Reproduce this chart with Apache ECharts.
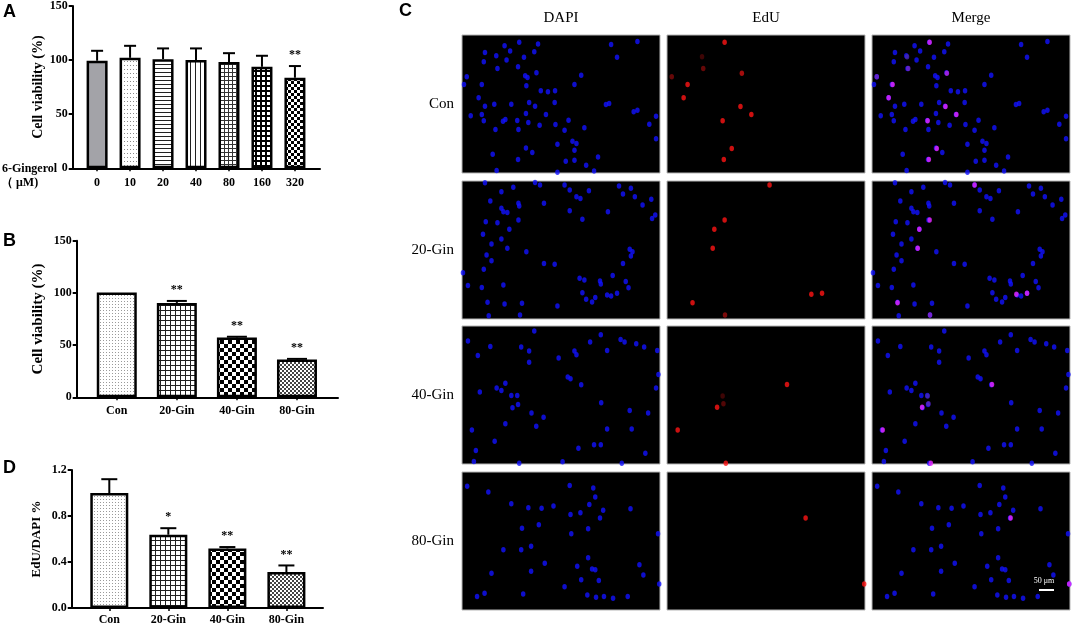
<!DOCTYPE html>
<html>
<head>
<meta charset="utf-8">
<script src="https://cdn.jsdelivr.net/npm/echarts@6/dist/echarts.min.js"></script>
<style>
  html, body { margin: 0; padding: 0; background: #fff; }
  #main { width: 1072px; height: 626px; }
</style>
</head>
<body>
<div id="main"></div>
<script>
// panel A: 6-Gingerol dose
var doseLabels = ['0', '10', '20', '40', '80', '160', '320'];
var viabilityA = [99.4, 102.1, 100.9, 100.0, 98.2, 93.8, 83.7];
var viabilityAErr = [9.2, 11.1, 9.9, 10.8, 8.2, 10.2, 10.8];
var starsA = ['', '', '', '', '', '', '**'];
var ticksA = [0, 50, 100, 150];

// panel B / D: groups
var groupLabels = ['Con', '20-Gin', '40-Gin', '80-Gin'];
var viabilityB = [100.5, 90.4, 57.3, 36.2];
var viabilityBErr = [0, 1.9, 0.7, 0.6];
var starsB = ['', '**', '**', '**'];
var ticksB = [0, 50, 100, 150];

var edURatio = [1.00, 0.637, 0.518, 0.313];
var edURatioErr = [0.12, 0.057, 0.012, 0.057];
var starsD = ['', '*', '**', '**'];
var ticksD = [0, 0.4, 0.8, 1.2];

// panel C: nuclei positions (% of image width / height)
var rowLabels = ['Con', '20-Gin', '40-Gin', '80-Gin'];
var colLabels = ['DAPI', 'EdU', 'Merge'];

var dapiCon = [[11.6,12.6],[21.5,7.7],[24.3,11.6],[28.9,5.3],[38.4,6.5],[36.5,12.1],[17.3,15.0],[22.5,18.2],[31.3,16.2],[11.0,19.4],
  [17.9,24.2],[28.3,23.0],[2.4,30.3],[1.0,35.8],[10.0,35.8],[31.9,29.5],[33.1,30.8],[37.6,27.4],[32.5,36.8],[60.2,29.1],
  [56.8,35.8],[39.8,40.4],[43.4,41.2],[47.0,40.4],[8.4,45.5],[11.6,51.6],[16.3,50.1],[24.9,50.1],[33.9,48.9],[36.9,51.6],
  [46.8,48.9],[4.4,58.6],[10.0,57.6],[11.0,62.2],[20.7,62.5],[21.9,61.3],[27.9,62.0],[32.3,56.9],[33.5,63.4],[39.2,65.4],
  [42.4,57.6],[47.2,64.9],[53.8,61.7],[16.9,68.5],[28.5,68.5],[51.8,69.0],[61.8,67.3],[72.7,50.4],[74.3,49.6],[86.7,55.7],
  [88.6,54.5],[98.0,58.8],[94.6,64.6],[98.0,75.1],[75.3,6.8],[78.3,16.2],[88.6,4.8],[55.8,77.0],[57.8,78.7],[56.8,83.5],
  [48.2,79.2],[32.3,81.8],[35.5,85.2],[15.5,86.4],[28.3,90.3],[52.4,91.5],[56.8,90.8],[62.7,94.4],[68.7,88.4],[66.7,98.5],
  [17.5,98.1],[48.2,99.5]];
var edUCon = [[29.1,5.3,1],[17.7,15.7,0.3],[18.3,24.2,0.5],[37.8,27.8,0.8],[2.4,30.3,0.5],[10.4,35.8,1],[8.4,45.5,1],
  [37.1,51.8,1],[42.6,57.6,1],[28.1,62.2,1],[32.7,82.3,1],[28.7,90.3,1]];

var dapi20 = [[11.6,1.2],[19.9,7.7],[25.9,4.6],[36.9,1.0],[39.4,2.9],[51.8,2.9],[54.4,6.5],[64.1,7.0],[57.8,11.4],[59.8,12.6],
  [79.3,3.6],[85.3,5.3],[81.3,9.4],[87.3,11.4],[91.2,17.4],[95.6,13.3],[97.6,24.6],[96.0,27.1],[14.3,14.5],[28.5,16.2],
  [28.9,18.1],[41.4,16.2],[19.9,19.8],[20.9,22.2],[22.9,22.9],[12.0,29.5],[17.9,30.2],[28.5,28.3],[23.9,35.0],[54.4,21.5],
  [73.7,22.2],[60.8,27.8],[10.6,38.6],[19.9,42.0],[14.9,45.7],[22.9,48.8],[32.5,51.2],[84.7,49.5],[86.1,51.2],[85.3,54.3],
  [12.4,53.6],[14.9,57.7],[81.3,59.7],[41.4,59.7],[46.8,60.4],[11.0,64.0],[0.5,66.4],[3.0,75.8],[10.0,77.1],[20.9,75.4],
  [59.4,70.5],[61.8,71.7],[69.7,72.5],[70.1,74.6],[76.1,68.4],[82.7,72.9],[84.1,77.3],[60.8,80.9],[62.7,85.7],[65.7,87.7],
  [67.3,84.5],[73.3,82.6],[75.3,83.3],[78.3,81.4],[12.9,87.9],[21.5,89.1],[30.3,88.6],[48.2,90.6],[13.5,97.6],[29.3,97.1]];
var edU20 = [[51.8,2.9,1],[29.1,28.3,1],[23.9,35.0,1],[23.1,48.8,1],[72.9,82.1,1],[78.3,81.4,1],[12.9,88.2,1],[29.3,97.1,0.6]];

var dapi40 = [[3.0,10.9],[14.3,14.8],[8.0,21.3],[36.5,3.6],[29.9,15.3],[33.9,18.2],[33.9,26.2],[48.8,23.2],[56.8,18.2],[57.8,20.8],
  [64.7,11.6],[70.1,6.3],[73.3,17.7],[80.1,9.7],[82.1,11.6],[88.0,12.8],[92.0,15.3],[98.6,17.7],[99.2,35.1],[98.0,45.0],
  [53.4,37.0],[54.8,38.3],[60.2,42.6],[9.0,47.9],[17.5,45.0],[19.9,46.7],[21.9,41.4],[24.9,50.4],[27.9,50.4],[28.3,56.9],
  [25.5,59.3],[35.1,63.0],[41.2,66.1],[37.5,72.6],[21.9,70.9],[5.0,75.3],[16.5,83.5],[7.0,90.3],[6.0,98.1],[70.3,55.7],
  [84.7,61.3],[94.0,63.0],[85.7,74.6],[73.3,74.6],[66.7,86.0],[70.1,86.0],[58.8,88.6],[92.6,92.3],[50.8,98.3],[28.9,99.5],
  [80.7,99.5]];
var edU40 = [[60.6,42.4,1],[25.3,58.8,1],[28.5,56.4,0.4],[28.1,50.8,0.3],[5.4,75.3,1],[29.7,99.5,1]];

var dapi80 = [[2.6,10.4],[13.3,14.5],[24.9,23.0],[33.5,25.9],[40.2,26.2],[46.2,24.7],[54.4,9.7],[66.3,11.6],[67.3,18.2],[64.3,23.5],
  [71.3,27.8],[59.8,29.5],[54.8,30.8],[69.7,33.4],[85.1,26.6],[38.8,38.3],[30.3,40.7],[55.2,44.8],[63.7,41.2],[99.0,44.8],
  [20.9,56.4],[29.9,56.4],[34.9,53.8],[41.8,66.1],[34.9,71.9],[14.9,73.4],[63.7,62.2],[58.2,68.3],[65.7,70.2],[67.3,70.9],
  [60.2,78.0],[69.1,78.7],[89.6,67.3],[91.6,74.6],[99.6,81.1],[51.8,83.1],[7.6,90.3],[11.4,87.9],[30.9,88.4],[63.3,89.1],
  [67.7,90.8],[71.7,90.3],[76.3,91.5],[83.7,90.3]];
var edU80 = [[70.0,33.4,1],[99.6,81.1,1]];

var dapiRows = [dapiCon, dapi20, dapi40, dapi80];
var edURows = [edUCon, edU20, edU40, edU80];

var serif = '"Liberation Serif", "DejaVu Serif", serif';

// 填充花纹
function pattern(w, h, draw) {
    var c = document.createElement('canvas');
    c.width = w; c.height = h;
    var ctx = c.getContext('2d');
    ctx.fillStyle = '#fff';
    ctx.fillRect(0, 0, w, h);
    draw(ctx);
    return { image: c, repeat: 'repeat' };
}
var patGray = '#a3a3a8';
var patDots = pattern(3, 4, function (ctx) { ctx.fillStyle = '#8a8a8a'; ctx.fillRect(1, 1, 1, 1); });
var patHLines = pattern(4, 4, function (ctx) { ctx.fillStyle = '#222'; ctx.fillRect(0, 0, 4, 1); });
var patVLines = pattern(5, 5, function (ctx) { ctx.fillStyle = '#222'; ctx.fillRect(0, 0, 1, 5); });
var patGrid = pattern(4, 4, function (ctx) { ctx.fillStyle = '#333'; ctx.fillRect(0, 0, 4, 1); ctx.fillRect(0, 0, 1, 4); });
var patBoldGrid = pattern(5, 5, function (ctx) { ctx.fillStyle = '#000'; ctx.fillRect(0, 0, 5, 5); ctx.fillStyle = '#fff'; ctx.fillRect(2, 2, 3, 3); });
var patChecker = pattern(6, 6, function (ctx) { ctx.fillStyle = '#000'; ctx.fillRect(0, 0, 3, 3); ctx.fillRect(3, 3, 3, 3); });
var patStipple = pattern(3, 3, function (ctx) { ctx.fillStyle = '#9a9a9a'; ctx.fillRect(1, 1, 1, 1); });
var patGrid5 = pattern(5, 5, function (ctx) { ctx.fillStyle = '#222'; ctx.fillRect(0, 0, 5, 1); ctx.fillRect(0, 0, 1, 5); });
var patChecker8 = pattern(8, 8, function (ctx) { ctx.fillStyle = '#000'; ctx.fillRect(0, 0, 4, 4); ctx.fillRect(4, 4, 4, 4); });
var patFine = pattern(4, 4, function (ctx) { ctx.fillStyle = '#444'; ctx.fillRect(0, 0, 2, 2); ctx.fillRect(2, 2, 2, 2); });

var patsA = [patGray, patDots, patHLines, patVLines, patGrid, patBoldGrid, patChecker];
var patsB = [patStipple, patGrid5, patChecker8, patFine];

var chart = echarts.init(document.getElementById('main'));

function idx(n) { var a = []; for (var i = 0; i < n; i++) a.push(i); return a; }

function barXAxis(g, cats, min, max, margin) {
    return {
        gridIndex: g, type: 'value', min: min, max: max,
        splitLine: { show: false },
        axisLine: { show: true, onZero: false, lineStyle: { color: '#000', width: 2 } },
        axisTick: { show: true, length: 3, customValues: idx(cats.length), lineStyle: { color: '#000', width: 1.5 } },
        axisLabel: {
            customValues: idx(cats.length), margin: margin,
            formatter: function (v) { return cats[Math.round(v)]; },
            color: '#000', fontFamily: serif, fontWeight: 'bold', fontSize: 12
        }
    };
}
function barYAxis(g, ticks, name, nameGap, nameSize, digits) {
    return {
        gridIndex: g, type: 'value', min: ticks[0], max: ticks[ticks.length - 1], interval: ticks[1] - ticks[0],
        splitLine: { show: false },
        axisLine: { show: true, onZero: false, lineStyle: { color: '#000', width: 2 } },
        axisTick: { show: true, length: 4, lineStyle: { color: '#000', width: 2 } },
        axisLabel: {
            margin: 5, color: '#000', fontFamily: serif, fontWeight: 'bold', fontSize: 12,
            formatter: function (v) { return digits ? v.toFixed(digits) : String(v); }
        },
        name: name, nameLocation: 'middle', nameGap: nameGap,
        nameTextStyle: { color: '#000', fontFamily: serif, fontWeight: 'bold', fontSize: nameSize }
    };
}
function barSeries(g, vals, pats, width, border) {
    return {
        type: 'bar', xAxisIndex: g, yAxisIndex: g, barWidth: width, silent: true,
        data: vals.map(function (v, i) {
            return { value: [i, v], itemStyle: { color: pats[i], borderColor: '#000', borderWidth: border } };
        })
    };
}
function errSeries(g, vals, errs, stars, cap) {
    return {
        type: 'custom', xAxisIndex: g, yAxisIndex: g, silent: true, z: 3,
        data: vals.map(function (v, i) { return [i, v, v + errs[i]]; }),
        renderItem: function (params, api) {
            var base = api.coord([api.value(0), api.value(1)]);
            var top = api.coord([api.value(0), api.value(2)]);
            var kids = [];
            if (base[1] - top[1] > 0.5) {
                kids.push({ type: 'line', shape: { x1: base[0], y1: base[1], x2: top[0], y2: top[1] }, style: { stroke: '#000', lineWidth: 2 } });
                kids.push({ type: 'line', shape: { x1: top[0] - cap / 2, y1: top[1], x2: top[0] + cap / 2, y2: top[1] }, style: { stroke: '#000', lineWidth: 2 } });
            }
            var s = stars[params.dataIndex];
            if (s) {
                kids.push({ type: 'text', style: { text: s, x: top[0], y: top[1] - 5, fill: '#000',
                    font: 'bold 12px ' + serif, textAlign: 'center', textVerticalAlign: 'bottom', align: 'center', verticalAlign: 'bottom' } });
            }
            return { type: 'group', children: kids };
        }
    };
}

var grids = [
    { left: 72.7, top: 5, width: 247.3, height: 163.3 },
    { left: 76.7, top: 240.7, width: 261.3, height: 156.6 },
    { left: 71.7, top: 470, width: 251.3, height: 140.7 }
];
var xAxes = [
    barXAxis(0, doseLabels, -0.74, 6.76, 9),
    barXAxis(1, groupLabels, -0.667, 3.683, 8),
    barXAxis(2, groupLabels, -0.637, 3.62, 6)
];
var yAxes = [
    barYAxis(0, ticksA, 'Cell viability (%)', 27, 14, 0),
    barYAxis(1, ticksB, 'Cell viability (%)', 31, 15, 0),
    barYAxis(2, ticksD, 'EdU/DAPI %', 29, 13, 1)
];
var series = [
    barSeries(0, viabilityA, patsA, 21, 2.5),
    errSeries(0, viabilityA, viabilityAErr, starsA, 12),
    barSeries(1, viabilityB, patsB, 40, 2.5),
    errSeries(1, viabilityB, viabilityBErr, starsB, 20),
    barSeries(2, edURatio, patsB, 38, 2.5),
    errSeries(2, edURatio, edURatioErr, starsD, 16)
];

// 荧光图片面板
var imgLeft = [462, 667, 872];
var imgTop = [35, 181, 326, 472];
var imgW = 198, imgH = 138;
function redColor(p) { var k = p.value[2]; return 'rgb(' + Math.round(255 * k) + ',' + Math.round(20 * k) + ',' + Math.round(20 * k) + ')'; }
function magentaColor(p) { var k = p.value[2]; return 'rgb(' + Math.round(235 * k) + ',40,' + Math.round(150 + 105 * k) + ')'; }

for (var r = 0; r < 4; r++) {
    for (var c = 0; c < 3; c++) {
        var g = grids.length;
        grids.push({ left: imgLeft[c], top: imgTop[r], width: imgW, height: imgH, show: true,
            backgroundColor: '#000', borderColor: '#b5b5b5', borderWidth: 1 });
        xAxes.push({ gridIndex: g, type: 'value', min: 0, max: 100, show: false });
        yAxes.push({ gridIndex: g, type: 'value', min: 0, max: 100, inverse: true, show: false });
        if (c !== 1) {
            series.push({ type: 'scatter', xAxisIndex: g, yAxisIndex: g, silent: true, symbol: 'circle',
                symbolSize: [4.5, 5.5], itemStyle: { color: '#1212ff' }, data: dapiRows[r] });
        }
        if (c !== 0) {
            series.push({ type: 'scatter', xAxisIndex: g, yAxisIndex: g, silent: true, symbol: 'circle',
                symbolSize: [4.5, 5.5], itemStyle: { color: c === 1 ? redColor : magentaColor }, data: edURows[r] });
        }
    }
}

var graphics = [];
function txt(t, x, y, font, align, fill) {
    graphics.push({ type: 'text', silent: true, style: { text: t, x: x, y: y, font: font, fill: fill || '#000',
        textAlign: align, textVerticalAlign: 'middle', align: align, verticalAlign: 'middle' } });
}
var letterFont = 'bold 18px "Liberation Sans", Arial, sans-serif';
txt('A', 3, 12, letterFont, 'left');
txt('B', 3, 241, letterFont, 'left');
txt('D', 3, 468, letterFont, 'left');
txt('C', 399, 11, letterFont, 'left');
txt('6-Gingerol', 2, 169, 'bold 12px ' + serif, 'left');
txt('（ μM)', 1, 183, 'bold 12px ' + serif, 'left');
colLabels.forEach(function (t, i) { txt(t, imgLeft[i] + imgW / 2, 18, '15px ' + serif, 'center'); });
rowLabels.forEach(function (t, i) { txt(t, 454, imgTop[i] + imgH / 2, '15px ' + serif, 'right'); });
// scale bar
txt('50 μm', 1044, 581, '8px ' + serif, 'center', '#fff');
graphics.push({ type: 'rect', silent: true, shape: { x: 1039, y: 589, width: 15, height: 2 }, style: { fill: '#fff' } });

chart.setOption({
    backgroundColor: '#fff',
    animation: false,
    grid: grids,
    xAxis: xAxes,
    yAxis: yAxes,
    series: series,
    graphic: graphics
});
</script>
</body>
</html>
